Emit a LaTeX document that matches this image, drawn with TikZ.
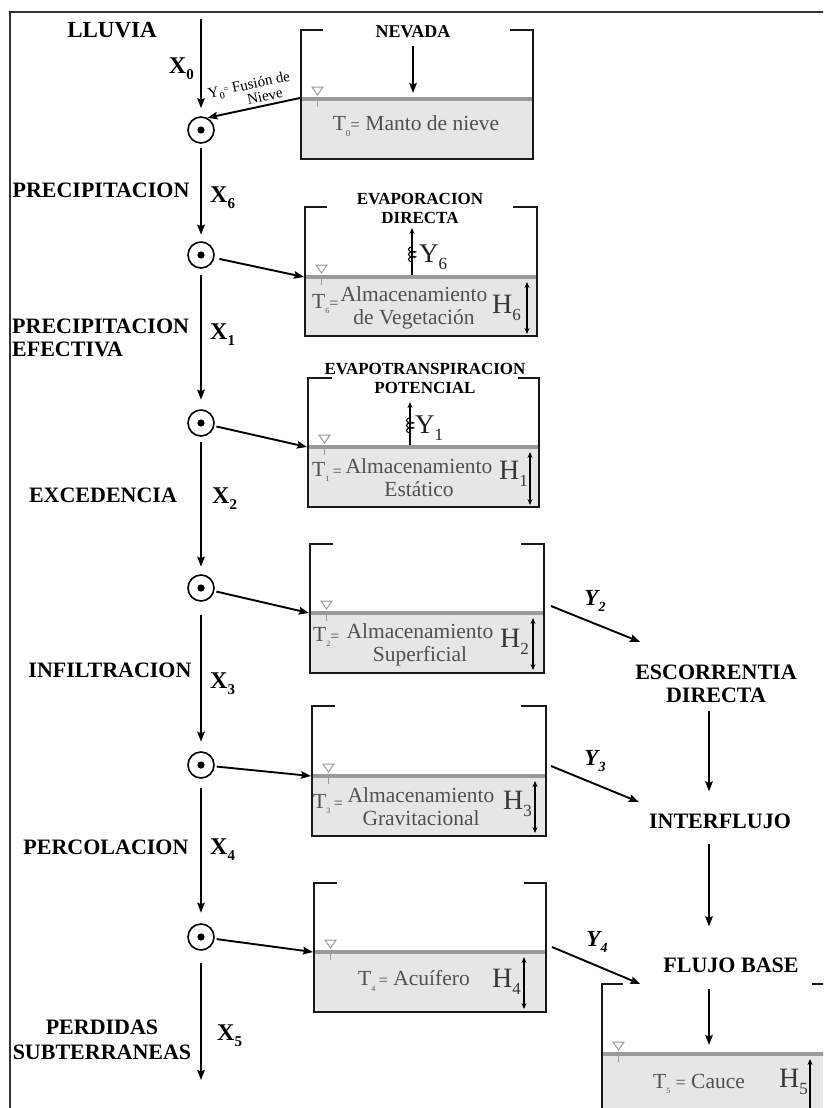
\documentclass[tikz,border=0pt]{standalone}
\usepackage{fontspec}
\setmainfont{Liberation Serif}
\usetikzlibrary{arrows.meta,decorations.pathmorphing,calc}
\definecolor{waterc}{HTML}{9A9A9A}
\definecolor{fillc}{HTML}{E6E6E6}
\definecolor{txtg}{HTML}{505050}
\definecolor{framec}{HTML}{333333}
\newcommand\Sub[2]{\raisebox{-0.25em}{\fontsize{#1}{#1}\selectfont #2}}
\newcommand\tankdraw[7]{%
  \fill[fillc] (#1,#5) rectangle (#2,#4);
  \draw[water] (#1,#5) -- (#2,#5);
  \draw[wall] (#6,#3) -- (#1,#3) -- (#1,#4) -- (#2,#4) -- (#2,#3) -- (#7,#3);
  \draw[levelmark] ($(#1,#5)+(11,-12)$) -- ++(11,0) -- ++(-5.5,8) -- cycle;
  \draw[levelmark] ($(#1,#5)+(16.5,2)$) -- ++(0,6);
}
\begin{document}
\begin{tikzpicture}[x=1pt,y=-1pt,
  sumnode/.style={circle, draw, line width=1.6pt, minimum size=26pt, inner sep=0pt},
  flow/.style={line width=1.9pt, -{Stealth[length=10pt,width=7.5pt,inset=1.5pt]}},
  wall/.style={line width=2.6pt, line join=miter, draw=black!90},
  water/.style={line width=4.5pt, draw=waterc},
  levelmark/.style={draw=waterc, line width=1pt},
  dbl/.style={line width=1.4pt, {Stealth[length=6pt,width=5pt]}-{Stealth[length=6pt,width=5pt]}},
  evap/.style={line width=1.3pt, -{Stealth[length=6pt,width=5pt]}},
  coilst/.style={line width=1.1pt, decorate, decoration={coil, amplitude=3.5pt, segment length=5pt, aspect=0.4}},
  bigl/.style={font=\bfseries\fontsize{22}{23}\selectfont, inner sep=0pt},
  ttl/.style={font=\bfseries\fontsize{17}{19}\selectfont, align=center, inner sep=0pt},
  tk/.style={font=\fontsize{21.5}{23}\selectfont, text=txtg, align=center, inner sep=0pt},
  tsym/.style={font=\fontsize{21.5}{23}\selectfont, text=txtg, inner sep=0pt, anchor=west},
  xl/.style={font=\bfseries\fontsize{24}{24}\selectfont, inner sep=0pt},
  yl/.style={font=\bfseries\itshape\fontsize{23}{23}\selectfont, inner sep=0pt},
  hl/.style={font=\fontsize{28}{28}\selectfont, text=black!78, inner sep=0pt, anchor=west},
  yin/.style={font=\fontsize{27}{27}\selectfont, text=black!88, inner sep=0pt, anchor=west},
]
\clip (0,0) rectangle (823,1108);
\fill[white] (0,0) rectangle (823,1108);
% frame
\draw[framec, line width=1.6pt] (10,1120) -- (10,12) -- (840,12);

% tanks
\tankdraw{301}{533}{30}{159}{99}{323}{510}
\tankdraw{305}{537}{207}{336}{277}{327}{513}
\tankdraw{308}{539}{378}{507}{447}{332}{518}
\tankdraw{310}{544}{544}{673}{613}{333}{521}
\tankdraw{312}{546}{706}{836}{776}{335}{521}
\tankdraw{314}{546}{883}{1012}{952}{337}{524}
\tankdraw{602}{880}{984}{1140}{1054}{623}{812}

% tank entry points
\coordinate (w0) at (300,98);
\coordinate (w6) at (304,277);
\coordinate (w1) at (307,447);
\coordinate (w2) at (309,613);
\coordinate (w3) at (311,776);
\coordinate (w4) at (313,952);
\coordinate (w5) at (709,1045);
% tank exits
\coordinate (o2) at (551,606);
\coordinate (o3) at (551,766);
\coordinate (o4) at (552,947);

% summation nodes
\foreach \n/\y in {c1/130,c2/255,c3/423,c4/588,c5/765,c6/937}{
  \node[sumnode] (\n) at (201,\y) {};
  \fill (\n) circle (3.6pt);
}
\coordinate (top) at (201,19);
\coordinate (bot) at (201,1080);

% main vertical flow
\draw[flow, shorten >=8pt] (top) -- (c1);
\draw[flow, shorten <=4.5pt, shorten >=6.5pt] (c1) -- (c2);
\draw[flow, shorten <=6.5pt, shorten >=9.5pt] (c2) -- (c3);
\draw[flow, shorten <=5.5pt, shorten >=7.5pt] (c3) -- (c4);
\draw[flow, shorten <=13pt, shorten >=9.5pt] (c4) -- (c5);
\draw[flow, shorten <=9.5pt, shorten >=10.5pt] (c5) -- (c6);
\draw[flow, shorten <=12pt] (c6) -- (bot);

% snow melt
\draw[flow] (w0) -- (c1.62);
\node[font=\fontsize{15}{13}\selectfont, rotate=12, align=left, inner sep=0pt, anchor=base west] (fus) at (212,112.5)
  {Y\Sub{10}{0}\raisebox{2pt}{\fontsize{9}{9}\selectfont =}\ Fusión de\\\hspace*{37pt}Nieve};

% circles to tanks
\draw[flow, shorten <=5pt] (c2) -- (w6);
\draw[flow, shorten <=2pt] (c3) -- (w1);
\draw[flow, shorten <=2pt] (c4) -- (w2);
\draw[flow, shorten <=2pt] (c5) -- (w3);
\draw[flow, shorten <=2pt] (c6) -- (w4);

% left labels
\node[bigl, font=\bfseries\fontsize{23}{25}\selectfont] (lluvia) at (112,30) {LLUVIA};
\node[bigl] (prec) at (101,190) {PRECIPITACION};
\node[bigl, align=left, anchor=west] (pefe) at (12,337.5) {PRECIPITACION\\EFECTIVA};
\node[bigl] (exc) at (103,495) {EXCEDENCIA};
\node[bigl] (infl) at (110,670) {INFILTRACION};
\node[bigl] (perc) at (106,847) {PERCOLACION};
\node[bigl, align=center, font=\bfseries\fontsize{22}{25}\selectfont] (perd) at (102,1039.5) {PERDIDAS\\SUBTERRANEAS};

% X labels
\node[xl, anchor=east] (x0) at (194,69) {X\Sub{15}{0}};
\node[xl, anchor=west] (x6) at (210,198) {X\Sub{15}{6}};
\node[xl, anchor=west] (x1) at (210,335) {X\Sub{15}{1}};
\node[xl, anchor=west] (x2) at (212,499) {X\Sub{15}{2}};
\node[xl, anchor=west] (x3) at (210,684) {X\Sub{15}{3}};
\node[xl, anchor=west] (x4) at (210,850) {X\Sub{15}{4}};
\node[xl, anchor=west] (x5) at (217,1036) {X\Sub{15}{5}};

% tank 0
\node[ttl, font=\bfseries\fontsize{18}{19}\selectfont] (nev) at (413,32) {NEVADA};
\coordinate (nevb) at (413,93);
\draw[flow, line width=1.7pt, shorten <=8pt] (nev) -- (nevb);
\node[tk] (t0) at (416,126) {T\Sub{9}{0}{\fontsize{17}{17}\selectfont=} Manto de nieve};

% tank 6
\node[ttl] (evd) at (420,208.5) {EVAPORACION\\DIRECTA};
\coordinate (e6a) at (412,275);
\coordinate (e6b) at (412,228);
\draw[evap] (e6a) -- (e6b);
\draw[coilst] (412,262) -- (412,244);
\node[yin] (y6) at (419,257) {Y\Sub{17}{6}};
\node[tsym] (t6s) at (312,304) {T\Sub{8}{6}{\fontsize{16}{16}\selectfont=}};
\node[tk] (t6) at (414,308) {Almacenamiento\\de Vegetación};
\node[hl] (h6) at (492,308) {H\Sub{17}{6}};
\draw[dbl] (527,282) -- (527,334);

% tank 1
\node[ttl] (evp) at (425,378.5) {EVAPOTRANSPIRACION\\POTENCIAL};
\coordinate (e1a) at (410,445);
\coordinate (e1b) at (410,402);
\draw[evap] (e1a) -- (e1b);
\draw[coilst] (410,433) -- (410,415);
\node[yin] (y1) at (415,428) {Y\Sub{17}{1}};
\node[tsym] (t1s) at (312,472) {T\Sub{8}{1}\,{\fontsize{16}{16}\selectfont=}};
\node[tk] (t1) at (419,478) {Almacenamiento\\Estático};
\node[hl] (h1) at (499,474) {H\Sub{17}{1}};
\draw[dbl] (530,452) -- (530,505);

% tank 2
\node[tsym] (t2s) at (313,637) {T\Sub{8}{2}{\fontsize{16}{16}\selectfont=}};
\node[tk] (t2) at (420,645) {Almacenamiento\\Superficial};
\node[hl] (h2) at (500,642) {H\Sub{17}{2}};
\draw[dbl] (533,618) -- (533,670);

% tank 3
\node[tsym] (t3s) at (313,804) {T\Sub{8}{3}\,{\fontsize{16}{16}\selectfont=}};
\node[tk] (t3) at (421,807) {Almacenamiento\\Gravitacional};
\node[hl] (h3) at (503,804) {H\Sub{17}{3}};
\draw[dbl] (535,781) -- (535,833);

% tank 4
\node[tk] (t4) at (414,981) {T\Sub{8}{4}\,{\fontsize{16}{16}\selectfont=} Acuífero};
\node[hl] (h4) at (492,982) {H\Sub{17}{4}};
\draw[dbl] (524,957) -- (524,1009);

% tank 5
\node[tk] (t5) at (699,1084) {T\Sub{8}{5}\ {\fontsize{18}{18}\selectfont=} Cauce};
\node[hl] (h5) at (779,1082) {H\Sub{17}{5}};
\draw[dbl] (810,1059) -- (810,1115);

% right side
\node[bigl, align=center] (esc) at (716,684) {ESCORRENTIA\\DIRECTA};
\node[bigl] (inter) at (720,821) {INTERFLUJO};
\node[bigl] (fb) at (731,965) {FLUJO BASE};
\coordinate (ax) at (709,0);
\draw[flow] ($(esc.south -| ax)+(0,8)$) -- ($(inter.north -| ax)+(0,-22)$);
\draw[flow] ($(inter.south -| ax)+(0,15)$) -- ($(fb.north -| ax)+(0,-31)$);
\draw[flow] ($(fb.south -| ax)+(0,16)$) -- (w5);

\draw[flow] (o2) -- ($(esc.north west)+(5,-23)$);
\draw[flow] (o3) -- ($(inter.west)+(-10,-19)$);
\draw[flow] (o4) -- ($(fb.west)+(-23,19)$);
\node[yl] (y2) at (595,601) {Y\Sub{14}{2}};
\node[yl] (y3) at (595,761) {Y\Sub{14}{3}};
\node[yl] (y4) at (597,942) {Y\Sub{14}{4}};
\end{tikzpicture}
\end{document}
